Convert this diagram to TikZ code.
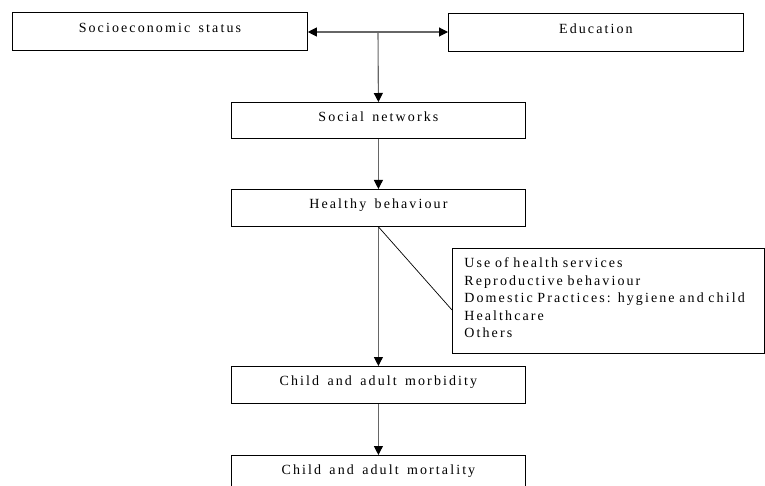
\documentclass[tikz,border=0pt]{standalone}
\usepackage{fontspec}
\setmainfont{Liberation Serif}[LetterSpace=15,WordSpace=1.5]
\usetikzlibrary{arrows.meta,calc}
\begin{document}
\begin{tikzpicture}[x=1pt,y=-1pt,
  box/.style={draw=black,line width=0.8pt,rectangle,inner xsep=0pt,inner ysep=0pt,
    minimum width=294pt,text height=19pt,text depth=17pt,anchor=north west,
    font=\fontsize{14}{17.5}\selectfont},
  topbox/.style={box,minimum width=295pt,text height=20pt,text depth=18pt},
  conn/.style={draw=black!60,line width=1.1pt},
  arr/.style={conn,-{Triangle[length=9pt,width=9pt,color=black]}},
  note/.style={draw=black,line width=0.8pt,anchor=north west,align=left,
    text width=288pt,inner xsep=12pt,inner ysep=0pt,minimum height=105pt,
    font=\fontsize{14}{17.5}\selectfont}]
\useasboundingbox (0,0) rectangle (765,486);
\clip (0,0) rectangle (765,486);
\node[topbox] (ses) at (12,12) {Socioeconomic status};
\node[topbox] (edu) at (448,13) {Education};
\node[box] (soc) at (231,102) {Social networks};
\node[box,text depth=18pt] (hb) at (231,189) {Healthy behaviour};
\node[note] (list) at (452,248) {Use of health services\\Reproductive behaviour\\Domestic Practices: hygiene and child\\Healthcare\\Others\rule[-6.6pt]{0pt}{0pt}};
\node[box,text depth=18pt] (morb) at (231,366) {Child and adult morbidity};
\node[box,text depth=18pt] (mort) at (231,455) {Child and adult mortality};
\coordinate (mid) at (378,32);
\coordinate (hit) at (452,310);
\draw[arr] (mid) -- (ses.east |- mid);
\draw[arr] (mid) -- (edu.west |- mid);
\draw[arr] (mid) -- (soc.north);
\draw[arr] (soc.south) -- (hb.north);
\draw[arr] (hb.south) -- (morb.north);
\draw[arr] (morb.south) -- (mort.north);
\draw[black,line width=0.7pt] (hb.south) -- (hit);
\end{tikzpicture}
\end{document}
